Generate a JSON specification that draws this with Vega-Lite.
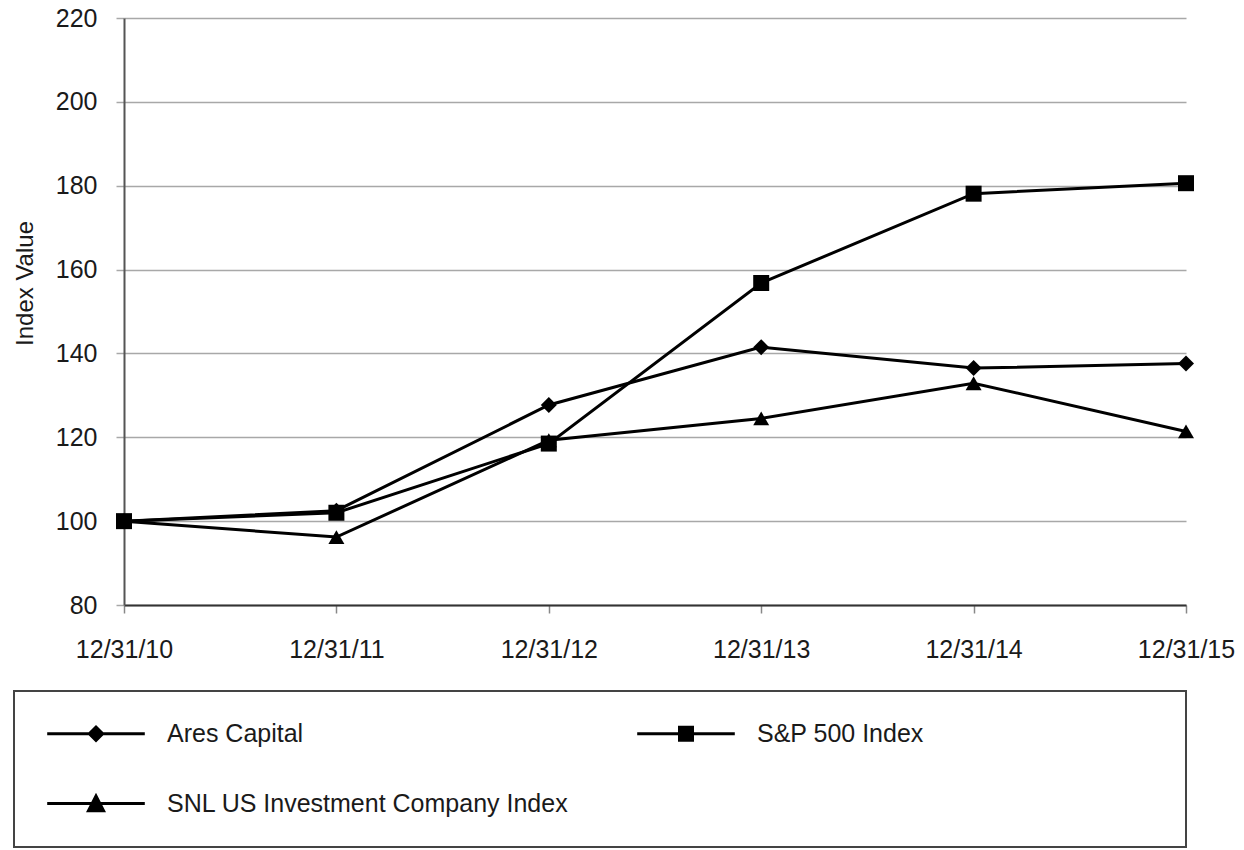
{
  "$schema": "https://vega.github.io/schema/vega-lite/v6.json",
  "width": 1062,
  "height": 587,
  "autosize": {"type": "none"},
  "padding": {"left": 124, "top": 18, "right": 58, "bottom": 245},
  "background": "white",
  "config": {
    "view": {"stroke": null},
    "font": "Liberation Sans",
    "axis": {"labelFont": "Liberation Sans", "titleFont": "Liberation Sans", "labelColor": "#1a1a1a", "titleColor": "#1a1a1a"},
    "legend": {"strokeWidth": 2}
  },
  "data": {
    "values": [
      {"date": "12/31/10", "series": "Ares Capital", "value": 100},
      {"date": "12/31/11", "series": "Ares Capital", "value": 102.5},
      {"date": "12/31/12", "series": "Ares Capital", "value": 127.7},
      {"date": "12/31/13", "series": "Ares Capital", "value": 141.5},
      {"date": "12/31/14", "series": "Ares Capital", "value": 136.5},
      {"date": "12/31/15", "series": "Ares Capital", "value": 137.6},
      {"date": "12/31/10", "series": "S&P 500 Index", "value": 100},
      {"date": "12/31/11", "series": "S&P 500 Index", "value": 102.0},
      {"date": "12/31/12", "series": "S&P 500 Index", "value": 118.5},
      {"date": "12/31/13", "series": "S&P 500 Index", "value": 156.8},
      {"date": "12/31/14", "series": "S&P 500 Index", "value": 178.1},
      {"date": "12/31/15", "series": "S&P 500 Index", "value": 180.6},
      {"date": "12/31/10", "series": "SNL US Investment Company Index", "value": 100},
      {"date": "12/31/11", "series": "SNL US Investment Company Index", "value": 96.2},
      {"date": "12/31/12", "series": "SNL US Investment Company Index", "value": 119.3},
      {"date": "12/31/13", "series": "SNL US Investment Company Index", "value": 124.5},
      {"date": "12/31/14", "series": "SNL US Investment Company Index", "value": 132.9},
      {"date": "12/31/15", "series": "SNL US Investment Company Index", "value": 121.4}
    ]
  },
  "encoding": {
    "x": {
      "field": "date", "type": "ordinal",
      "scale": {"type": "point", "padding": 0},
      "sort": null,
      "axis": {
        "title": null, "labelAngle": 0, "labelFontSize": 25, "labelPadding": 24,
        "tickSize": 8, "tickColor": "#888888", "tickWidth": 1.5,
        "domainColor": "#333333", "domainWidth": 2, "grid": false
      }
    },
    "y": {
      "field": "value", "type": "quantitative",
      "scale": {"domain": [80, 220], "nice": false, "zero": false},
      "axis": {
        "title": "Index Value", "titleFontSize": 24, "titleFontWeight": "normal",
        "titleX": -87, "titleY": 265,
        "values": [80, 100, 120, 140, 160, 180, 200, 220],
        "labelFontSize": 25, "labelPadding": 19,
        "tickSize": 8, "tickColor": "#a8a8a8", "tickWidth": 1.5,
        "domainColor": "#555555", "domainWidth": 2,
        "grid": true, "gridColor": "#a8a8a8", "gridWidth": 1.5
      }
    }
  },
  "layer": [
    {
      "mark": {"type": "line", "color": "black", "strokeWidth": 3},
      "encoding": {"detail": {"field": "series"}}
    },
    {
      "transform": [{"filter": "datum.series == 'Ares Capital'"}],
      "mark": {"type": "point", "filled": true, "color": "black", "opacity": 1, "size": 256, "shape": "diamond"}
    },
    {
      "transform": [{"filter": "datum.series == 'S&P 500 Index'"}],
      "mark": {"type": "point", "filled": true, "color": "black", "opacity": 1, "size": 256, "shape": "square"}
    },
    {
      "transform": [{"filter": "datum.series == 'SNL US Investment Company Index'"}],
      "mark": {"type": "point", "filled": true, "color": "black", "opacity": 1, "size": 256, "shape": "triangle-up"}
    },
    {
      "mark": {"type": "point", "filled": true, "color": "black", "opacity": 0, "size": 256},
      "encoding": {
        "shape": {
          "field": "series", "type": "nominal",
          "scale": {
            "domain": ["Ares Capital", "S&P 500 Index", "SNL US Investment Company Index"],
            "range": [
              "M-6.1,-0.18H6.1V0.18H-6.1ZM0,-1.1L1.1,0L0,1.1L-1.1,0Z",
              "M-6.1,-0.18H6.1V0.18H-6.1ZM-1,-1H1V1H-1Z",
              "M-6.1,-0.18H6.1V0.18H-6.1ZM0,-1.35L1.25,1.1L-1.25,1.1Z"
            ]
          },
          "legend": {
            "title": " ",
            "titleOrient": "right",
            "titleFontSize": 2,
            "titlePadding": 232,
            "orient": "none",
            "direction": "horizontal",
            "legendX": -110,
            "legendY": 673,
            "columns": 2,
            "columnPadding": 65,
            "rowPadding": 44,
            "padding": 30,
            "strokeColor": "#444444",
            "symbolSize": 256,
            "symbolOffset": 39.5,
            "symbolFillColor": "black",
            "symbolStrokeWidth": 0,
            "labelOffset": 58.5,
            "labelFont": "Liberation Sans",
            "labelFontSize": 25,
            "labelColor": "#1a1a1a",
            "labelLimit": 0,
            "symbolOpacity": 1
          }
        }
      }
    }
  ]
}
